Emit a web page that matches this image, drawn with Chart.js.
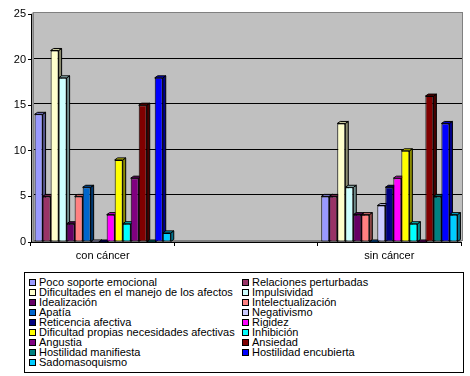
<!DOCTYPE html>
<html>
<head>
<meta charset="utf-8">
<script src="https://cdn.jsdelivr.net/npm/chart.js@4"></script>
<style>
  body { margin: 0; background: #fff; font-family: "Liberation Sans", Arial, sans-serif; }
  #wrap { position: relative; width: 470px; height: 376px; }
  #legend {
    position: absolute; left: 24px; top: 272px; width: 440px; height: 101px;
    border: 1px solid #000; box-sizing: border-box; padding: 4px 0 0 3px;
    display: grid; grid-template-columns: 213px 200px; grid-auto-rows: 10px;
    font-size: 11px; line-height: 10px; color: #000;
  }
  .item { white-space: nowrap; display: flex; align-items: center; }
  .sw { width: 5px; height: 5px; border: 1px solid #000; margin-right: 3px; margin-left: 1px; flex: none; }
</style>
</head>
<body>
<div id="wrap">
  <canvas id="chart" width="470" height="265"></canvas>
  <div id="legend"></div>
</div>
<script>
const categories = ["con cáncer", "", "sin cáncer"];
const seriesNames = [
  "Poco soporte emocional", "Relaciones perturbadas",
  "Dificultades en el manejo de los afectos", "Impulsividad",
  "Idealización", "Intelectualización",
  "Apatía", "Negativismo",
  "Reticencia afectiva", "Rigidez",
  "Dificultad propias necesidades afectivas", "Inhibición",
  "Angustia", "Ansiedad",
  "Hostilidad manifiesta", "Hostilidad encubierta",
  "Sadomasoquismo"
];
const conCancer = [14, 5, 21, 18, 2, 5, 6, 0, 0, 3, 9, 2, 7, 15, 0, 18, 1];
const sinCancer = [5, 5, 13, 6, 3, 3, 0, 4, 6, 7, 10, 2, 0, 16, 5, 13, 3];
const seriesColors = [
  "#9999FF", "#993366", "#FFFFCC", "#CCFFFF", "#660066", "#FF8080",
  "#0066CC", "#CCCCFF", "#000080", "#FF00FF", "#FFFF00", "#00FFFF",
  "#800080", "#800000", "#008080", "#0000FF", "#00CCFF"
];
const yTicks = [0, 5, 10, 15, 20, 25];

const DX = 3, DY = 2;      // bar depth
const WALL = 2;            // back wall offset

function shade(hex, f) {
  const n = parseInt(hex.slice(1), 16);
  const r = Math.round(((n >> 16) & 255) * f);
  const g = Math.round(((n >> 8) & 255) * f);
  const b = Math.round((n & 255) * f);
  return `rgb(${r},${g},${b})`;
}

// gray wall, floor and back gridlines
const wallPlugin = {
  id: "wall",
  beforeDraw(chart) {
    const { ctx, chartArea: a } = chart;
    const y = chart.scales.y;
    ctx.save();
    ctx.fillStyle = "#C0C0C0";
    ctx.fillRect(a.left + WALL, a.top - WALL, a.right - a.left, a.bottom - a.top);
    // left side wall
    ctx.fillStyle = "#A0A0A0";
    ctx.beginPath();
    ctx.moveTo(a.left, a.top); ctx.lineTo(a.left + WALL, a.top - WALL);
    ctx.lineTo(a.left + WALL, a.bottom - WALL); ctx.lineTo(a.left, a.bottom);
    ctx.closePath(); ctx.fill();
    // floor
    ctx.fillStyle = "#808080";
    ctx.beginPath();
    ctx.moveTo(a.left, a.bottom); ctx.lineTo(a.left + WALL, a.bottom - WALL);
    ctx.lineTo(a.right + WALL, a.bottom - WALL); ctx.lineTo(a.right, a.bottom);
    ctx.closePath(); ctx.fill();
    // gridlines on the back wall
    ctx.strokeStyle = "#000"; ctx.lineWidth = 1;
    yTicks.slice(1, -1).forEach(v => {
      const py = Math.round(y.getPixelForValue(v) - WALL) + 0.5;
      ctx.beginPath(); ctx.moveTo(a.left + WALL, py); ctx.lineTo(a.right + WALL, py); ctx.stroke();
    });
    ctx.strokeStyle = "#808080";
    ctx.strokeRect(a.left + WALL + 0.5, a.top - WALL + 0.5, a.right - a.left - 1, a.bottom - a.top);
    ctx.restore();
  },
  beforeDatasetsDraw(chart) {
    const { ctx } = chart;
    ctx.save();
    ctx.strokeStyle = "#000"; ctx.lineWidth = 1;
    chart.data.datasets.forEach((ds, i) => {
      chart.getDatasetMeta(i).data.forEach((bar, j) => {
        if (ds.data[j] == null) return;
        const p = bar.getProps(["x", "y", "base", "width"], true);
        const l = p.x - p.width / 2, r = p.x + p.width / 2;
        ctx.fillStyle = shade(ds.backgroundColor, 0.55);
        ctx.beginPath();
        ctx.moveTo(r, p.y); ctx.lineTo(r + DX, p.y - DY);
        ctx.lineTo(r + DX, p.base - DY); ctx.lineTo(r, p.base);
        ctx.closePath(); ctx.fill(); ctx.stroke();
        ctx.fillStyle = shade(ds.backgroundColor, 0.8);
        ctx.beginPath();
        ctx.moveTo(l, p.y); ctx.lineTo(l + DX, p.y - DY);
        ctx.lineTo(r + DX, p.y - DY); ctx.lineTo(r, p.y);
        ctx.closePath(); ctx.fill(); ctx.stroke();
      });
    });
    ctx.restore();
  }
};

Chart.defaults.font.family = '"Liberation Sans", Arial, sans-serif';
Chart.defaults.font.size = 11;
Chart.defaults.color = "#000";

const datasets = seriesNames.map((name, i) => ({
  label: name,
  data: [conCancer[i], null, sinCancer[i]],
  backgroundColor: seriesColors[i],
  borderColor: "#000",
  borderWidth: 1,
  borderSkipped: false
}));

new Chart(document.getElementById("chart"), {
  type: "bar",
  data: { labels: categories, datasets: datasets },
  options: {
    responsive: false,
    animation: false,
    layout: { padding: { left: 0, top: 14, right: 9, bottom: 0 } },
    datasets: { bar: { categoryPercentage: 0.95, barPercentage: 1 } },
    plugins: { legend: { display: false }, tooltip: { enabled: false } },
    scales: {
      x: {
        grid: { offset: true, drawOnChartArea: false, tickLength: 4, color: "#000" },
        border: { color: "#000" },
        ticks: { padding: 3 },
        afterFit(s) { s.height = 23; }
      },
      y: {
        min: 0, max: 25,
        afterBuildTicks(s) { s.ticks = yTicks.map(v => ({ value: v })); },
        grid: { drawOnChartArea: false, tickLength: 3, color: "#000" },
        border: { color: "#000" },
        ticks: { padding: 2 },
        afterFit(s) { s.width = 31; }
      }
    }
  },
  plugins: [wallPlugin]
});

// two-column legend built from the series
const legend = document.getElementById("legend");
seriesNames.forEach((name, i) => {
  const item = document.createElement("div");
  item.className = "item";
  item.innerHTML = `<span class="sw" style="background:${seriesColors[i]}"></span>${name}`;
  legend.appendChild(item);
});
</script>
</body>
</html>
